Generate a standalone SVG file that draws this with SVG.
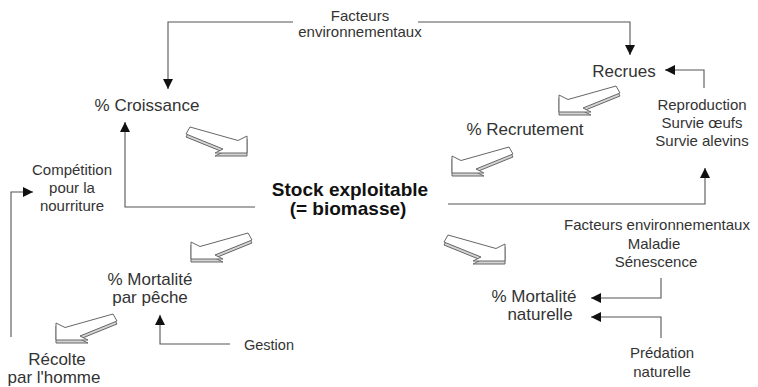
<svg xmlns="http://www.w3.org/2000/svg" xmlns:xlink="http://www.w3.org/1999/xlink" width="758" height="387" viewBox="0 0 758 387">
<style>
.t{font-family:"Liberation Sans",Arial,sans-serif;fill:#333;text-anchor:middle}
.m{font-size:17px}
.s{font-size:15px}
.b{font-size:19px;font-weight:bold;fill:#111}
.ln{fill:none;stroke:#555;stroke-width:1.1;marker-end:url(#ah)}
.face{fill:#fff;stroke:#666;stroke-width:1;stroke-linejoin:round}
.band{fill:#d4d4d4;stroke:#666;stroke-width:1;stroke-linejoin:round}
</style>
<defs>
<marker id="ah" markerUnits="userSpaceOnUse" viewBox="0 0 10 10" refX="10" refY="5" markerWidth="10" markerHeight="10" orient="auto">
<path d="M0,0 L10,5 L0,10 z" fill="#111"/>
</marker>
<g id="arrSE">
<polygon class="band" transform="translate(0,3)" points="0,0 0,-17 -9,-12.5 -57,-26 -61,-19 -24,-4 -32,0"/>
<polygon class="face" points="0,0 0,-17 -9,-12.5 -57,-26 -61,-19 -24,-4 -32,0"/>
</g>
</defs>
<rect width="758" height="387" fill="#fff"/>
<g id="connectors">
<path class="ln" d="M293,22 H168 V89"/>
<path class="ln" d="M418,22 H630 V55"/>
<path class="ln" d="M704,88 V70 H665"/>
<path class="ln" d="M448,204 H705 V168"/>
<path class="ln" d="M255,207 H125 V122"/>
<path class="ln" d="M11,337 V192 H33"/>
<path class="ln" d="M230,344 H160 V315"/>
<path class="ln" d="M661,278 V298 H591"/>
<path class="ln" d="M661,338 V317 H591"/>
<use xlink:href="#arrSE" transform="translate(247,153)"/>
<use xlink:href="#arrSE" transform="translate(559,112) scale(-1,1)"/>
<use xlink:href="#arrSE" transform="translate(452,173) scale(-1,1)"/>
<use xlink:href="#arrSE" transform="translate(191,259) scale(-1,1)"/>
<use xlink:href="#arrSE" transform="translate(505,261)"/>
<use xlink:href="#arrSE" transform="translate(56,340) scale(-1,1)"/>
</g>
<g id="facteurs-top"><text class="t s" x="360" y="20.5">Facteurs</text><text class="t s" x="360" y="36.5">environnementaux</text></g>
<g id="croissance"><text class="t m" x="147" y="111">% Croissance</text></g>
<g id="recrues"><text class="t m" x="624" y="77">Recrues</text></g>
<g id="recrutement"><text class="t m" x="525" y="135">% Recrutement</text></g>
<g id="reproduction"><text class="t s" x="702" y="110">Reproduction</text><text class="t s" x="702" y="128">Survie œufs</text><text class="t s" x="702" y="146">Survie alevins</text></g>
<g id="competition"><text class="t s" x="72" y="175">Compétition</text><text class="t s" x="72" y="193">pour la</text><text class="t s" x="72" y="211">nourriture</text></g>
<g id="stock"><text class="t b" x="350" y="196">Stock exploitable</text><text class="t b" x="348" y="215">(= biomasse)</text></g>
<g id="mortalite-peche"><text class="t m" x="150" y="285">% Mortalité</text><text class="t m" x="150" y="303">par pêche</text></g>
<g id="recolte"><text class="t m" x="57" y="365">Récolte</text><text class="t m" x="54" y="383">par l'homme</text></g>
<g id="gestion"><text class="t s" x="269" y="350" style="font-size:14.5px">Gestion</text></g>
<g id="facteurs-bas"><text class="t s" x="657" y="230">Facteurs environnementaux</text><text class="t s" x="654" y="248.5">Maladie</text><text class="t s" x="656" y="267">Sénescence</text></g>
<g id="mortalite-naturelle"><text class="t m" x="534" y="302">% Mortalité</text><text class="t m" x="540" y="320">naturelle</text></g>
<g id="predation"><text class="t s" x="662" y="358">Prédation</text><text class="t s" x="662" y="377">naturelle</text></g>
</svg>
